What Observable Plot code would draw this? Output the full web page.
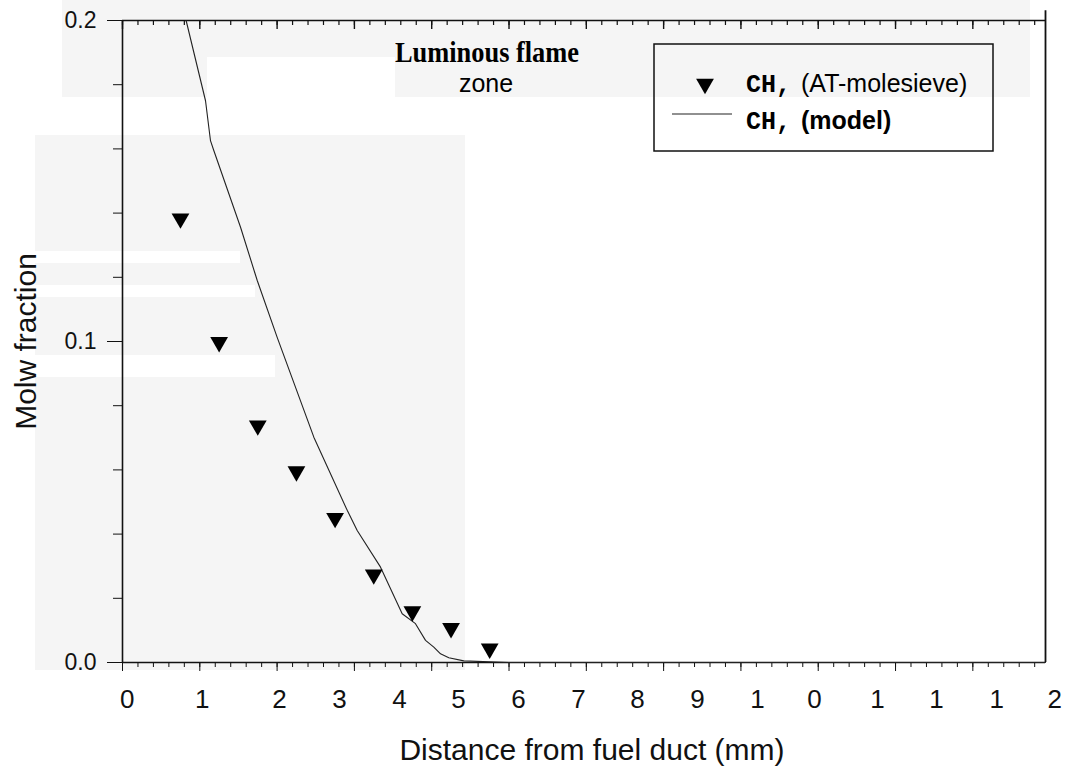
<!DOCTYPE html>
<html><head><meta charset="utf-8">
<script src="https://cdn.jsdelivr.net/npm/d3@7"></script>
<script src="https://cdn.jsdelivr.net/npm/@observablehq/plot@0.6"></script>
<style>body{margin:0;background:#fff;} #chart svg{display:block}</style>
</head><body><div id="chart"></div>
<script>
// ---- data ----
const xMax = 11.94;
const measuredX = [0.75, 1.25, 1.75, 2.25, 2.75, 3.25, 3.75, 4.25, 4.75];
const measuredY = [0.1383, 0.0998, 0.0738, 0.0595, 0.0450, 0.0274, 0.0159, 0.0107, 0.0043];
const modelX = [0.823, 1.074, 1.138, 1.181, 1.527, 1.743, 2.001, 2.475, 2.907, 3.036, 3.338, 3.618, 3.790, 3.920, 4.027, 4.114, 4.221, 4.415, 5.0, 11.94];
const modelY = [0.200, 0.175, 0.1626, 0.1595, 0.1356, 0.119, 0.1013, 0.0702, 0.0474, 0.0411, 0.0297, 0.0152, 0.0121, 0.0069, 0.0048, 0.0027, 0.0015, 0.0005, 0.0, 0.0];
const xTickLabels = ["0","1","2","3","4","5","6","7","8","9","1","0","1","1","1","2"];
const xTickLabelPos = [0.061, 1.031, 2.031, 2.807, 3.583, 4.347, 5.123, 5.899, 6.662, 7.439, 8.215, 8.952, 9.767, 10.53, 11.31, 12.06];
const yTickValues = [0, 0.1, 0.2];
const yTickLabels = ["0.0", "0.1", "0.2"];
const xLabel = "Distance from fuel duct (mm)";
const yLabel = "Molw fraction";
const legendMeasured = ["CH,", "(AT-molesieve)"];
const legendModel = ["CH,", "(model)"];
const zoneTitle = ["Luminous flame", "zone"];

// ---- derived tables ----
const measured = measuredX.map((x, i) => ({x, y: measuredY[i]}));
const model = modelX.map((x, i) => ({x, y: modelY[i]}));
const xLabels = xTickLabels.map((label, i) => ({label, pos: xTickLabelPos[i]}));
const yLabels = yTickLabels.map((label, i) => ({label, v: yTickValues[i]}));
const xMinor = d3.range(0, 60).map(i => i / 5);
const xMajor = d3.range(0, 12);
const yMinor = d3.range(0, 11).map(i => i * 0.02);
const pxPerY = 642 / 0.2; // plot height / y span, for inward top ticks

const ink = "#111";
const svg = Plot.plot({
  width: 1069, height: 771,
  marginLeft: 122, marginRight: 24, marginTop: 20, marginBottom: 109,
  x: {domain: [0, xMax], axis: null},
  y: {domain: [0, 0.2], axis: null},
  style: {fontFamily: "'Liberation Sans', Arial, sans-serif", background: "transparent", color: ink},
  marks: [
    // frame lines
    Plot.ruleY([0], {stroke: ink, strokeWidth: 1.6}),
    Plot.ruleY([0.2], {stroke: ink, strokeWidth: 1.4}),
    Plot.ruleX([0], {y1: 0, y2: 0.2, stroke: ink, strokeWidth: 1.6}),
    Plot.ruleX([xMax], {y1: 0, y2: 0.203, stroke: ink, strokeWidth: 1.8}),
    // bottom ticks (outside)
    Plot.axisX({anchor: "bottom", ticks: xMinor, tickSize: 5, fill: "none", label: null, stroke: ink}),
    Plot.axisX({anchor: "bottom", ticks: xMajor, tickSize: 9, fill: "none", label: null, stroke: ink}),
    // top ticks (inside, pointing down)
    Plot.ruleX(xMinor, {y1: 0.2, y2: 0.2 - 5 / pxPerY, stroke: ink, strokeWidth: 1.2}),
    Plot.ruleX(xMajor, {y1: 0.2, y2: 0.2 - 9 / pxPerY, stroke: ink, strokeWidth: 1.4}),
    // left ticks
    Plot.axisY({anchor: "left", ticks: yMinor, tickSize: 9, fill: "none", label: null, stroke: ink}),
    Plot.axisY({anchor: "left", ticks: yTickValues, tickSize: 15, fill: "none", label: null, stroke: ink}),
    // tick labels
    Plot.text(yLabels, {x: 0, y: "v", text: "label", dx: -26, textAnchor: "end", fontSize: 23, fill: ink}),
    Plot.text(xLabels, {x: "pos", text: "label", frameAnchor: "bottom", lineAnchor: "bottom", dy: 45, fontSize: 26, fill: ink}),
    // axis titles
    Plot.text([xLabel], {text: d => d, frameAnchor: "bottom", textAnchor: "middle", lineAnchor: "bottom", dy: 97, dx: 8, fontSize: 30, fill: ink}),
    Plot.text([yLabel], {text: d => d, frameAnchor: "left", textAnchor: "middle", rotate: -90, dx: -96, fontSize: 30, fill: ink}),
    // data
    Plot.line(model, {x: "x", y: "y", stroke: "#222", strokeWidth: 1.1}),
    Plot.dot(measured, {x: "x", y: "y", symbol: "triangle", r: 6.6, fill: "#000", stroke: "none", rotate: 180})
  ]
});

document.getElementById("chart").appendChild(svg);

// ---- decoration: light scan shading, flame-zone label, legend ----
const s = d3.select(svg);
const bg = s.insert("g", ":first-child");
const shade = "#f5f5f5";
[[62, 0, 968, 97, shade], [207, 57, 188, 40, "#fff"], [35, 135, 430, 535, shade],
 [35, 251, 205, 12, "#fff"], [35, 285, 220, 12, "#fff"], [35, 355, 240, 22, "#fff"]]
  .forEach(([x, y, w, h, f]) => bg.append("rect").attr("x", x).attr("y", y).attr("width", w).attr("height", h).attr("fill", f));

s.append("text").attr("x", 487).attr("y", 62).attr("text-anchor", "middle")
  .attr("font-family", "'Liberation Serif', 'Times New Roman', serif").attr("font-weight", "bold")
  .attr("font-size", 30).attr("textLength", 184).attr("lengthAdjust", "spacingAndGlyphs")
  .attr("fill", "#000").text(zoneTitle[0]);
s.append("text").attr("x", 486).attr("y", 92).attr("text-anchor", "middle")
  .attr("font-family", "'Liberation Sans', Arial, sans-serif").attr("font-size", 25)
  .attr("fill", "#000").text(zoneTitle[1]);

const lg = s.append("g").attr("text-anchor", "start").attr("fill", "#000");
lg.append("rect").attr("x", 654).attr("y", 44).attr("width", 339).attr("height", 107)
  .attr("fill", "none").attr("stroke", ink).attr("stroke-width", 1.5);
lg.append("path").attr("d", d3.symbol(d3.symbolTriangle, Math.PI * 6.6 * 6.6)())
  .attr("transform", "translate(705,84) rotate(180)").attr("fill", "#000");
lg.append("line").attr("x1", 672).attr("x2", 732).attr("y1", 114).attr("y2", 114)
  .attr("stroke", "#222").attr("stroke-width", 1.2);
const mono = "'Liberation Mono', 'Courier New', monospace";
const sans = "'Liberation Sans', Arial, sans-serif";
const addText = (x, y, family, weight, str) => lg.append("text").attr("x", x).attr("y", y)
  .attr("text-anchor", "start").attr("font-family", family).attr("font-weight", weight)
  .attr("font-size", 25).text(str);
addText(746, 92, mono, "bold", legendMeasured[0]);
addText(801, 92, sans, "normal", legendMeasured[1]);
addText(746, 129, mono, "bold", legendModel[0]);
addText(801, 129, sans, "bold", legendModel[1]);
</script>
</body></html>
